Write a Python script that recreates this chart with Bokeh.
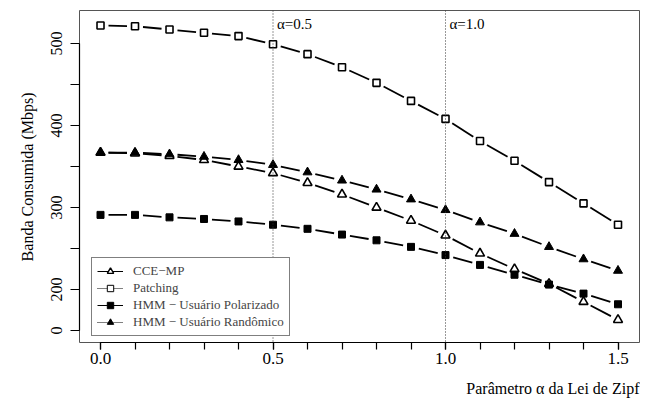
import math
from bokeh.plotting import figure
from bokeh.models import Range1d, FixedTicker, Span, Label, Legend, LegendItem, Title, NumeralTickFormatter
from bokeh.embed import file_html
from bokeh.resources import INLINE

# ---- data ----
alpha = [0.0, 0.1, 0.2, 0.3, 0.4, 0.5, 0.6, 0.7, 0.8, 0.9, 1.0, 1.1, 1.2, 1.3, 1.4, 1.5]
cce_mp = [367, 366, 363, 358, 350, 342, 330, 316, 300, 284, 266, 244, 225, 207, 185, 163]
patching = [522, 521, 517, 513, 509, 499, 487, 471, 452, 430, 408, 381, 357, 331, 305, 279]
hmm_pol = [291, 291, 288, 286, 283, 279, 274, 267, 260, 252, 242, 230, 218, 206, 195, 182]
hmm_rand = [367, 367, 365, 362, 358, 352, 343, 333, 322, 310, 297, 282, 268, 252, 237, 223]

x_major = [0.0, 0.5, 1.0, 1.5]
y_major = [150, 200, 300, 400, 500]
y_minor = [250, 350, 450]
y_labels = {150: "0"}
marks = [0.5, 1.0]
mark_labels = ["α=0.5", "α=1.0"]

FONT = "Liberation Serif"
FW, FH = 560, 332
X0, X1 = -0.0609, 1.5623
Y0, Y1 = 135.4, 540.2

p = figure(frame_width=FW, frame_height=FH, output_backend="svg", toolbar_location=None,
           x_range=Range1d(X0, X1), y_range=Range1d(Y0, Y1),
           min_border_left=79, min_border_right=1, min_border_top=10, min_border_bottom=10)
p.grid.visible = False
p.outline_line_color = "#555555"
p.outline_line_width = 1
p.background_fill_color = "white"
p.border_fill_color = "white"

sx = FW / (X1 - X0)
sy = FH / (Y1 - Y0)


def gapped(xs, ys, gap=8.0):
    xa, ya, xb, yb = [], [], [], []
    for i in range(len(xs) - 1):
        dx = xs[i + 1] - xs[i]
        dy = ys[i + 1] - ys[i]
        L = math.hypot(dx * sx, dy * sy)
        f = gap / L
        xa.append(xs[i] + dx * f)
        ya.append(ys[i] + dy * f)
        xb.append(xs[i + 1] - dx * f)
        yb.append(ys[i + 1] - dy * f)
    return xa, ya, xb, yb


for s in [cce_mp, patching, hmm_pol, hmm_rand]:
    xa, ya, xb, yb = gapped(alpha, s)
    p.segment(xa, ya, xb, yb, line_color="black", line_width=1.8)

p.scatter(alpha, cce_mp, marker="triangle", size=9, fill_color="white", line_color="black", line_width=1.6)
p.scatter(alpha, hmm_rand, marker="triangle", size=9, fill_color="black", line_color="black")
p.scatter(alpha, patching, marker="square", size=7, fill_color="white", line_color="black", line_width=1.6)
p.scatter(alpha, hmm_pol, marker="square", size=7, fill_color="black", line_color="black")

for m, t in zip(marks, mark_labels):
    p.add_layout(Span(location=m, dimension="height", line_color="#333333", line_dash="1 2", line_width=1))
    p.add_layout(Label(x=m, y=524, x_offset=4, text=t, text_font=FONT, text_font_size="15px",
                       text_baseline="middle", text_color="black"))

# axes
p.xaxis.ticker = FixedTicker(ticks=x_major, minor_ticks=alpha)
p.xaxis.formatter = NumeralTickFormatter(format="0.0")
p.xaxis.bounds = (0, 1.5)
p.yaxis.ticker = FixedTicker(ticks=y_major, minor_ticks=y_minor)
p.yaxis.major_label_overrides = y_labels
p.yaxis.bounds = (150, 500)
for ax in [p.xaxis[0], p.yaxis[0]]:
    ax.axis_line_color = "black"
    ax.axis_line_width = 1.2
    ax.major_tick_line_color = "black"
    ax.minor_tick_line_color = "black"
    ax.major_tick_line_width = 1.2
    ax.minor_tick_line_width = 1.2
    ax.major_tick_in = 0
    ax.minor_tick_in = 0
    ax.major_label_text_font = FONT
    ax.major_label_text_color = "black"
p.xaxis.major_label_text_font_size = "17px"
p.yaxis.major_label_text_font_size = "16px"
p.xaxis.major_tick_out = 7
p.xaxis.minor_tick_out = 7
p.xaxis.major_label_standoff = 3
p.yaxis.major_tick_out = 9
p.yaxis.minor_tick_out = 9
p.yaxis.major_label_standoff = 8
p.yaxis.major_label_orientation = "vertical"

p.add_layout(Title(text="Banda Consumida (Mbps)", align="right", offset=82, text_font=FONT,
                   text_font_size="16px", text_font_style="normal", text_color="black",
                   standoff=26), "left")
p.add_layout(Title(text="Parâmetro α da Lei de Zipf", align="right", text_font=FONT,
                   text_font_size="16px", text_font_style="normal", text_color="black",
                   standoff=22), "below")

# legend
nan = [float("nan")]
l1 = p.line(nan, nan, line_color="black", line_width=1)
m1 = p.scatter(nan, nan, marker="triangle", fill_color="white", line_color="black", line_width=1.4)
l2 = p.line(nan, nan, line_color="black", line_width=1, line_dash="1 1")
m2 = p.scatter(nan, nan, marker="square", fill_color="white", line_color="black", line_width=1)
l3 = p.line(nan, nan, line_color="black", line_width=1)
m3 = p.scatter(nan, nan, marker="square", fill_color="black", line_color="black")
l4 = p.line(nan, nan, line_color="black", line_width=1, line_dash="1 1")
m4 = p.scatter(nan, nan, marker="triangle", fill_color="black", line_color="black")

legend = Legend(items=[
    LegendItem(label="CCE−MP", renderers=[l1, m1]),
    LegendItem(label="Patching", renderers=[l2, m2]),
    LegendItem(label="HMM − Usuário Polarizado", renderers=[l3, m3]),
    LegendItem(label="HMM − Usuário Randômico", renderers=[l4, m4]),
], location=(12, 6), label_text_font=FONT, label_text_font_size="13px",
    label_height=16, glyph_height=16, glyph_width=26, spacing=1, padding=5,
    label_standoff=10, border_line_color="black", border_line_width=1,
    background_fill_color="white", background_fill_alpha=1.0)
p.add_layout(legend, "center")

open("out.html", "w").write(file_html(p, INLINE))
